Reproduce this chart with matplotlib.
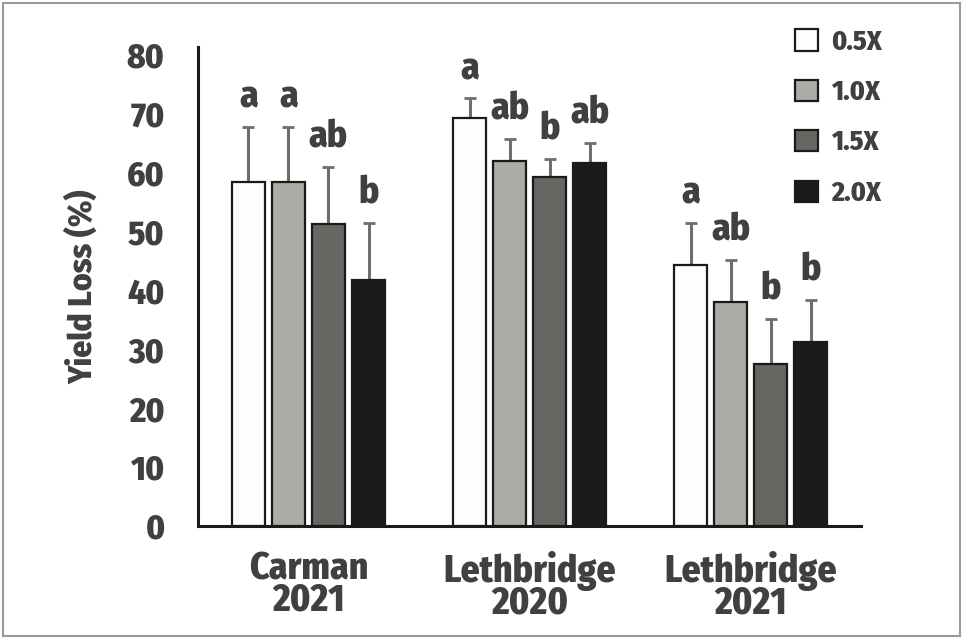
import numpy as np
import matplotlib.pyplot as plt
from matplotlib import font_manager
from matplotlib.patches import Rectangle

# narrow bold face close to the original (first one that is installed)
installed = {f.name for f in font_manager.fontManager.ttflist}
wanted = ['Fira Sans Condensed', 'PT Sans Narrow', 'Open Sans Condensed',
          'Roboto Condensed', 'Sofia Sans Condensed', 'Saira Condensed']
font = next((f for f in wanted if f in installed), 'DejaVu Sans')
plt.rcParams['font.family'] = [font, 'DejaVu Sans']
W = 800

sites = ['Carman\n2021', 'Lethbridge\n2020', 'Lethbridge\n2021']
doses = ['0.5X', '1.0X', '1.5X', '2.0X']

# yield loss (%) per dose, one value per site
loss_05 = [58.4, 69.2, 44.3]
loss_10 = [58.4, 62.0, 38.0]
loss_15 = [51.2, 59.3, 27.5]
loss_20 = [41.7, 61.7, 31.2]

# upper error bar
err_05 = [9.4, 3.4, 7.2]
err_10 = [9.4, 3.7, 7.1]
err_15 = [9.8, 3.1, 7.7]
err_20 = [9.8, 3.4, 7.2]

# mean separation letters
let_05 = ['a', 'a', 'a']
let_10 = ['a', 'ab', 'ab']
let_15 = ['ab', 'b', 'b']
let_20 = ['b', 'ab', 'b']

means = [loss_05, loss_10, loss_15, loss_20]
errs = [err_05, err_10, err_15, err_20]
letters = [let_05, let_10, let_15, let_20]
colors = ['#fdfdfb', '#abaca6', '#666762', '#1b1b19']
text_col = '#404040'

fig = plt.figure(figsize=(9.63, 6.4), dpi=100)
ax = fig.add_axes([0.2056, 0.1786, 0.6885, 0.7475])

x = np.arange(len(sites))
step = 0.181
width = 0.148
handles = []
for i, (m, e, lab, c) in enumerate(zip(means, errs, letters, colors)):
    xi = x + (i - 1.5) * step
    ax.errorbar(xi, m, yerr=[np.zeros(len(e)), e], fmt='none',
                ecolor='#6e6e6e', elinewidth=2.2, capsize=4.5, capthick=2,
                zorder=1)
    b = ax.bar(xi, m, width, color=c, edgecolor='#1a1a1a', linewidth=1.6,
               zorder=2, label=doses[i])
    handles.append(b)
    for xx, mm, ee, ll in zip(xi, m, e, lab):
        ax.annotate(ll, (xx, mm + ee), xytext=(0, 14), textcoords='offset points',
                    ha='center', va='baseline', fontsize=27, fontweight=W,
                    color=text_col)

ax.set_xlim(-0.5, 2.5)
ax.set_ylim(0, 81.3)
ax.set_yticks(range(0, 81, 10))
ax.set_xticks(x)
ax.set_xticklabels(sites, fontsize=27, fontweight=W, color=text_col,
                   linespacing=0.78)
ax.tick_params(axis='y', length=0, pad=24, labelsize=25, labelcolor=text_col)
ax.tick_params(axis='x', length=0, pad=18)
for lbl in ax.get_yticklabels():
    lbl.set_fontweight(W)
ax.set_ylabel('Yield Loss (%)', fontsize=24, fontweight=W, color=text_col,
              labelpad=20)

for s in ['top', 'right']:
    ax.spines[s].set_visible(False)
for s in ['left', 'bottom']:
    ax.spines[s].set_linewidth(2.2)
    ax.spines[s].set_color('#1a1a1a')

leg = ax.legend(handles=handles, loc='upper left', bbox_to_anchor=(0.826, 0.955),
                bbox_transform=fig.transFigure, frameon=False,
                prop={'size': 20, 'weight': W}, handlelength=0.8,
                handleheight=0.8, handletextpad=0.5, labelspacing=0.86,
                borderpad=0, borderaxespad=0)
for t in leg.get_texts():
    t.set_color(text_col)

fig.patches.append(Rectangle((0.003, 0.006), 0.994, 0.989, transform=fig.transFigure,
                             fill=False, edgecolor='#9a9a9a', linewidth=1.5))

fig.savefig('out.png', dpi=100)
